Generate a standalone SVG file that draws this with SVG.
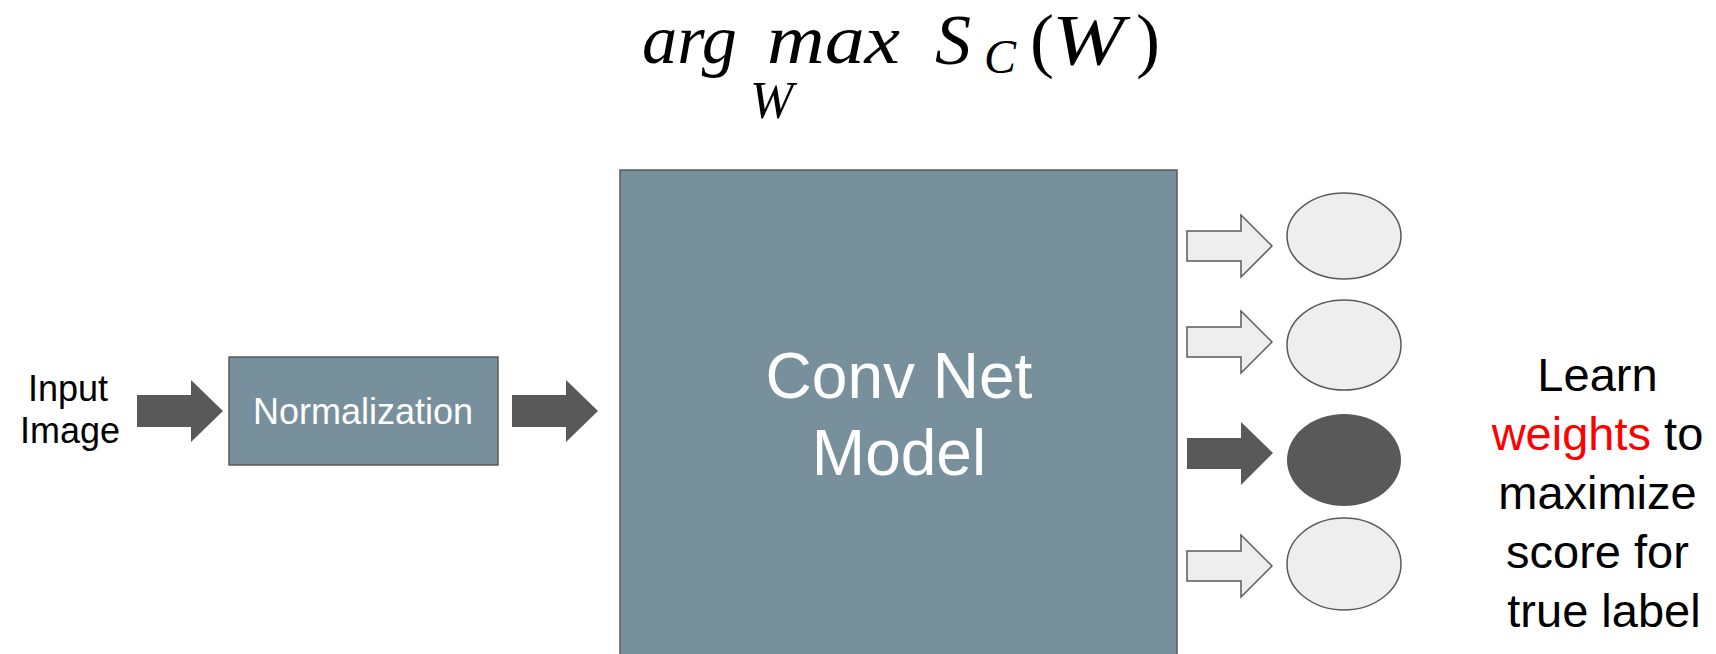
<svg xmlns="http://www.w3.org/2000/svg" width="1716" height="654" viewBox="0 0 1716 654">
<style>
.box{fill:#78909c;stroke:#595959;stroke-width:1.5}
.dark{fill:#595959}
.light{fill:#eeeeee;stroke:#595959;stroke-width:1.5}
.sans{font-family:"Liberation Sans",Arial,sans-serif}
.math{font-family:"Liberation Serif","Times New Roman",serif;font-style:italic;fill:#000}
.rm{font-family:"Liberation Serif","Times New Roman",serif;fill:#000}
</style>
<rect width="1716" height="654" fill="#ffffff"/>
<g id="formula">
<text class="math" x="642" y="63" font-size="70" textLength="95" lengthAdjust="spacingAndGlyphs">arg</text>
<text class="math" x="767" y="63" font-size="70" textLength="133" lengthAdjust="spacingAndGlyphs">max</text>
<text class="math" x="750" y="118" font-size="52">W</text>
<text class="math" x="935" y="64" font-size="72">S</text>
<text class="math" x="984" y="73" font-size="48">C</text>
<text class="rm" x="1030" y="64" font-size="72">(</text>
<text class="math" x="1052" y="64" font-size="72" textLength="72" lengthAdjust="spacingAndGlyphs">W</text>
<text class="rm" x="1136" y="64" font-size="72">)</text>
</g>
<g id="input-label">
<text class="sans" x="68" y="401" font-size="36" text-anchor="middle">Input</text>
<text class="sans" x="70" y="443" font-size="36" text-anchor="middle">Image</text>
</g>
<g id="normalization">
<rect class="box" x="229" y="357" width="269" height="108"/>
<text class="sans" x="363" y="424" font-size="36" fill="#ffffff" text-anchor="middle">Normalization</text>
</g>
<g id="convnet">
<rect class="box" x="620" y="170" width="557" height="500"/>
<text class="sans" x="899" y="398" font-size="64" fill="#ffffff" text-anchor="middle">Conv Net</text>
<text class="sans" x="899" y="475" font-size="64" fill="#ffffff" text-anchor="middle">Model</text>
</g>
<g id="out1"><ellipse class="light" cx="1344" cy="236" rx="57" ry="43"/></g>
<g id="out2"><ellipse class="light" cx="1344" cy="345" rx="57" ry="45"/></g>
<g id="out3"><ellipse class="dark" cx="1344" cy="460" rx="57" ry="46"/></g>
<g id="out4"><ellipse class="light" cx="1344" cy="564" rx="57" ry="46"/></g>
<g id="learn-text">
<text class="sans" font-size="47" text-anchor="middle" fill="#000">
<tspan x="1604" y="391">Learn</tspan>
<tspan x="1604" y="450"><tspan fill="#ff0000">weights</tspan> to</tspan>
<tspan x="1604" y="509">maximize</tspan>
<tspan x="1604" y="568">score for</tspan>
<tspan x="1604" y="627">true label</tspan>
</text>
</g>
<g id="connectors">
<polygon class="dark" points="137,395 191,395 191,380 223,411 191,442 191,427 137,427"/>
<polygon class="dark" points="512,395 566,395 566,380 598,411 566,442 566,427 512,427"/>
<polygon class="light" points="1187,231 1241,231 1241,215 1272,246 1241,277 1241,261 1187,261"/>
<polygon class="light" points="1187,327 1241,327 1241,311 1272,342 1241,373 1241,357 1187,357"/>
<polygon class="dark" points="1187,438 1241,438 1241,422 1273,453 1241,485 1241,469 1187,469"/>
<polygon class="light" points="1187,551 1241,551 1241,535 1272,566 1241,597 1241,581 1187,581"/>
</g>
</svg>
